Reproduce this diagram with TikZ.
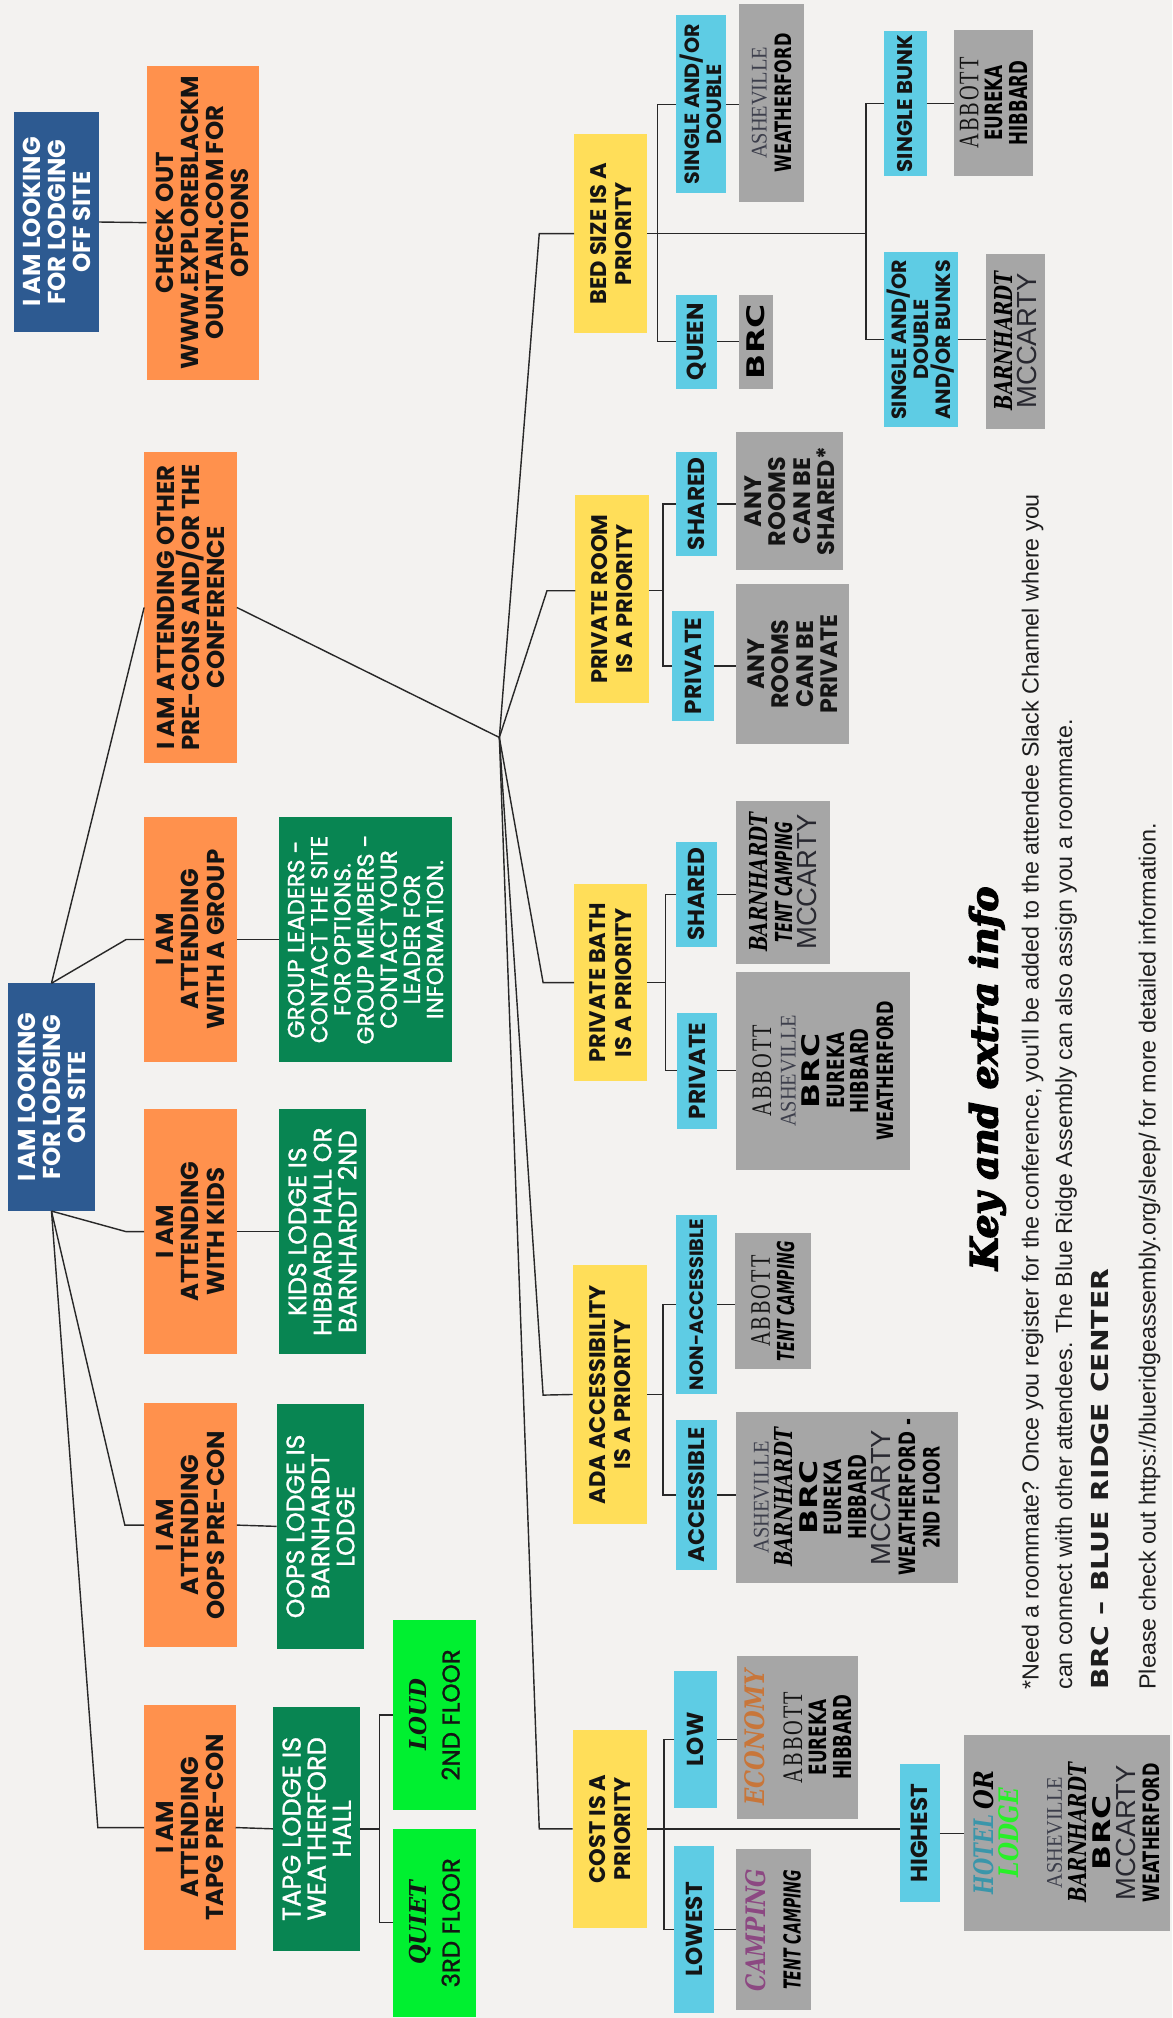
\documentclass[tikz,border=0pt]{standalone}
\usepackage{fontspec}
\usepackage{graphicx}
\setmainfont{Liberation Sans}
\newfontfamily\pop{Poppins}
\newfontfamily\popm{Poppins}[FakeBold=1.0]
\newfontfamily\libserif{Liberation Serif}
\newfontfamily\libserifLS{Liberation Serif}[LetterSpace=10]
\newfontfamily\djsans{DejaVu Sans}
\newfontfamily\djserif{DejaVu Serif}
\newfontfamily\titlefont{DejaVu Serif}[BoldItalicFeatures={FakeBold=4}]
\newfontfamily\libsans{Liberation Sans}
\definecolor{bg}{RGB}{243,242,240}
\definecolor{cblue}{RGB}{45,90,145}
\definecolor{corange}{RGB}{255,145,77}
\definecolor{cdgreen}{RGB}{8,133,82}
\definecolor{clgreen}{RGB}{0,240,48}
\definecolor{cyellow}{RGB}{255,222,89}
\definecolor{ccyan}{RGB}{94,204,228}
\definecolor{cgrey}{RGB}{166,166,166}
\definecolor{cline}{RGB}{40,40,40}
\definecolor{cdark}{RGB}{20,20,20}
\definecolor{cashe}{RGB}{60,62,75}
\definecolor{cmcc}{RGB}{40,40,48}
\definecolor{cecon}{RGB}{200,118,58}
\definecolor{ccamp}{RGB}{140,72,130}
\definecolor{chotel}{RGB}{58,150,170}
\definecolor{clodge}{RGB}{40,240,40}
\definecolor{ckey}{RGB}{30,30,30}
\newcommand\fs[2]{\fontsize{#1}{#2}\selectfont}
\newcommand\wABBOTT{\textcolor{cdark}{\resizebox{71pt}{14.5pt}{\libserifLS ABBOTT}}}
\newcommand\wASHE{\textcolor{cashe}{\resizebox{87pt}{11.5pt}{\libserif ASHEVILLE}}}
\newcommand\wBRC{\textcolor{black}{\resizebox{58pt}{14pt}{\djsans\bfseries BRC}}}
\newcommand\wEUREKA{\textcolor{black}{\resizebox{59pt}{13.5pt}{\djsans\bfseries EUREKA}}}
\newcommand\wHIBBARD{\textcolor{black}{\resizebox{66pt}{14pt}{\djsans\bfseries HIBBARD}}}
\newcommand\wWEATH{\textcolor{black}{\resizebox{108pt}{13pt}{\djsans\bfseries WEATHERFORD}}}
\newcommand\wWEATHd{\textcolor{black}{\resizebox{122pt}{13pt}{\djsans\bfseries WEATHERFORD -}}}
\newcommand\wSECOND{\textcolor{black}{\resizebox{79pt}{13pt}{\djsans\bfseries 2ND FLOOR}}}
\newcommand\wBARN{\textcolor{black}{\resizebox{108pt}{14pt}{\djserif\bfseries\itshape BARNHARDT}}}
\newcommand\wMCC{\textcolor{cmcc}{\resizebox{105pt}{15pt}{\libsans MCCARTY}}}
\newcommand\wTENT{\textcolor{black}{\resizebox{93pt}{13.5pt}{\djsans\bfseries\itshape TENT CAMPING}}}
\newcommand\wECON{\textcolor{cecon}{\resizebox{106pt}{15.5pt}{\djserif\bfseries\itshape ECONOMY}}}
\newcommand\wCAMP{\textcolor{ccamp}{\resizebox{95pt}{15.5pt}{\djserif\bfseries\itshape CAMPING}}}
\newcommand\wHOTEL{\textcolor{chotel}{\resizebox{62pt}{15.5pt}{\djserif\bfseries\itshape HOTEL}}}
\newcommand\wOR{\textcolor{black}{\resizebox{30pt}{15.5pt}{\djserif\bfseries\itshape OR}}}
\newcommand\wLODGE{\textcolor{clodge}{\resizebox{69pt}{15.5pt}{\djserif\bfseries\itshape LODGE}}}
\newcommand\wLOUD{\resizebox{56pt}{13.4pt}{\djserif\bfseries\itshape LOUD}}
\newcommand\wQUIET{\resizebox{65pt}{13.4pt}{\djserif\bfseries\itshape QUIET}}
\begin{document}
\begin{tikzpicture}[x=1pt,y=-1pt,
  bx/.style={rotate=90, inner sep=0pt, outer sep=0pt, align=center, text=cdark},
  nblue/.style={bx, fill=cblue, text=white, font=\pop\bfseries\fs{19}{19.5}},
  norange/.style={bx, fill=corange, font=\pop\bfseries\fs{19}{19.5}},
  ndgreen/.style={bx, fill=cdgreen, text=white, font=\popm\fs{19.5}{19.5}},
  nlgreen/.style={bx, fill=clgreen, font=\popm\fs{19}{19}},
  nyellow/.style={bx, fill=cyellow, font=\pop\bfseries\fs{17.5}{19.5}},
  ncyan/.style={bx, fill=ccyan, font=\pop\bfseries\fs{18}{19}},
  ngrey/.style={bx, fill=cgrey, font=\fs{14}{19}},
  conn/.style={draw=cline, line width=1.1pt},
  keytxt/.style={rotate=90, inner sep=0pt, anchor=base west, text=ckey, font=\libsans\fs{16.5}{18}}]
\useasboundingbox (0,0) rectangle (911,1568);
\fill[bg] (0,0) rectangle (911,1568);

% ---- left column
\node[nblue, minimum width=171, minimum height=66] (offsite) at (44,172.5) {I AM LOOKING\\FOR LODGING\\OFF SITE};
\node[nblue, minimum width=177, minimum height=68] (onsite) at (40,852.5) {I AM LOOKING\\FOR LODGING\\ON SITE};

\node[norange, minimum width=244, minimum height=87] (checkout) at (157.5,173) {CHECK OUT\\WWW.EXPLOREBLACKM\\OUNTAIN.COM FOR\\OPTIONS};
\node[norange, minimum width=242, minimum height=72] (other) at (148,472) {I AM ATTENDING OTHER\\PRE-CONS AND/OR THE\\CONFERENCE};
\node[norange, minimum width=190, minimum height=72] (group) at (148,730) {I AM\\ATTENDING\\WITH A GROUP};
\node[norange, minimum width=190, minimum height=72] (kids) at (148,957) {I AM\\ATTENDING\\WITH KIDS};
\node[norange, minimum width=190, minimum height=72] (oops) at (148,1185) {I AM\\ATTENDING\\OOPS PRE-CON};
\node[norange, minimum width=190, minimum height=71] (tapg) at (147.5,1420) {I AM\\ATTENDING\\TAPG PRE-CON};

\node[ndgreen, minimum width=190, minimum height=134, font=\popm\fs{18}{18}] (leaders) at (284,730) {GROUP LEADERS -\\CONTACT THE SITE\\FOR OPTIONS.\\GROUP MEMBERS -\\CONTACT YOUR\\LEADER FOR\\INFORMATION.};
\node[ndgreen, minimum width=190, minimum height=67] (kidslodge) at (250.5,957) {KIDS LODGE IS\\HIBBARD HALL OR\\BARNHARDT 2ND};
\node[ndgreen, minimum width=190, minimum height=68] (oopslodge) at (249,1186) {OOPS LODGE IS\\BARNHARDT\\LODGE};
\node[ndgreen, minimum width=190, minimum height=68, font=\popm\fs{20}{19.5}] (tapglodge) at (246,1421) {TAPG LODGE IS\\WEATHERFORD\\HALL};

\node[nlgreen, minimum width=147, minimum height=65] (loud) at (337.5,1332.5) {\wLOUD\\[7pt]2ND FLOOR};
\node[nlgreen, minimum width=146, minimum height=65] (quiet) at (337.5,1494) {\wQUIET\\[7pt]3RD FLOOR};

% ---- priorities
\node[nyellow, minimum width=155, minimum height=57] (bed) at (474.5,181.5) {BED SIZE IS A\\PRIORITY};
\node[nyellow, minimum width=161, minimum height=57] (room) at (475.5,465.5) {PRIVATE ROOM\\IS A PRIORITY};
\node[nyellow, minimum width=153, minimum height=57] (bath) at (474.5,763.5) {PRIVATE BATH\\IS A PRIORITY};
\node[nyellow, minimum width=201, minimum height=58] (ada) at (474,1083.5) {ADA ACCESSIBILITY\\IS A PRIORITY};
\node[nyellow, minimum width=154, minimum height=58] (cost) at (474,1421) {COST IS A\\PRIORITY};

% ---- options
\node[ncyan, minimum width=138, minimum height=39, font=\pop\bfseries\fs{16}{16.5}] (sod) at (544.5,81) {SINGLE AND/OR\\DOUBLE};
\node[ncyan, minimum width=73, minimum height=32] (queen) at (541,265.5) {QUEEN};
\node[ncyan, minimum width=113, minimum height=33, font=\pop\bfseries\fs{16.5}{17}] (bunk) at (703.5,80.5) {SINGLE BUNK};
\node[ncyan, minimum width=136, minimum height=57, font=\pop\bfseries\fs{16}{17}] (bunks) at (715.5,264) {SINGLE AND/OR\\DOUBLE\\AND/OR BUNKS};
\node[ncyan, minimum width=81, minimum height=32] (rshared) at (541,391.5) {SHARED};
\node[ncyan, minimum width=85, minimum height=33] (rprivate) at (538.5,517.5) {PRIVATE};
\node[ncyan, minimum width=82, minimum height=32] (bshared) at (541,695) {SHARED};
\node[ncyan, minimum width=90, minimum height=31] (bprivate) at (541.5,832) {PRIVATE};
\node[ncyan, minimum width=139, minimum height=32, font=\pop\bfseries\fs{15}{16}] (nonacc) at (541,1013.5) {NON-ACCESSIBLE};
\node[ncyan, minimum width=117, minimum height=32, font=\pop\bfseries\fs{17.5}{18}] (acc) at (541,1161.5) {ACCESSIBLE};
\node[ncyan, minimum width=107, minimum height=33] (low) at (540.5,1351.5) {LOW};
\node[ncyan, minimum width=130, minimum height=31] (lowest) at (539.5,1499) {LOWEST};
\node[ncyan, minimum width=107, minimum height=31] (highest) at (714.5,1424.5) {HIGHEST};

% ---- lodges
\node[ngrey, minimum width=154, minimum height=51] (gsod) at (599.5,80) {\wASHE\\\wWEATH};
\node[ngrey, minimum width=73, minimum height=27] (gqueen) at (587.5,265.5) {\wBRC};
\node[ngrey, minimum width=114, minimum height=62] (gbunk) at (772,80) {\wABBOTT\\\wEUREKA\\\wHIBBARD};
\node[ngrey, minimum width=136, minimum height=46] (gbunks) at (789,265) {\wBARN\\\wMCC};
\node[ngrey, minimum width=107, minimum height=83, font=\pop\bfseries\fs{18.5}{19}] (grshared) at (613.5,389.5) {ANY\\ROOMS\\CAN BE\\SHARED*};
\node[ngrey, minimum width=124, minimum height=88, font=\pop\bfseries\fs{18.5}{19}] (grprivate) at (616,516) {ANY\\ROOMS\\CAN BE\\PRIVATE};
\node[ngrey, minimum width=127, minimum height=73] (gbshared) at (608.5,685.5) {\wBARN\\\wTENT\\\wMCC};
\node[ngrey, minimum width=154, minimum height=135] (gbprivate) at (639.5,832) {\wABBOTT\\\wASHE\\\wBRC\\\wEUREKA\\\wHIBBARD\\\wWEATH};
\node[ngrey, minimum width=106, minimum height=59] (gnonacc) at (600.5,1011) {\wABBOTT\\\wTENT};
\node[ngrey, minimum width=133, minimum height=172] (gacc) at (658,1163.5) {\wASHE\\\wBARN\\\wBRC\\\wEUREKA\\\wHIBBARD\\\wMCC\\\wWEATHd\\\wSECOND};
\node[ngrey, minimum width=126, minimum height=94] (glow) at (620,1350) {\wECON\\[10pt]\wABBOTT\\\wEUREKA\\\wHIBBARD};
\node[ngrey, minimum width=125, minimum height=58] (glowest) at (601,1499.5) {\wCAMP\\[8pt]\wTENT};
\node[ngrey, minimum width=152, minimum height=160] (ghighest) at (829,1424) {\wHOTEL\hspace{4pt}\wOR\\\wLODGE\\[15pt]\wASHE\\\wBARN\\\wBRC\\\wMCC\\\wWEATH};

% ---- connectors, left part
\draw[conn] (offsite.south) -- (checkout.north);
\draw[conn] (onsite.east) -- (other.north);
\draw[conn] (onsite.east) -- (98,730) -- (group.north);
\draw[conn] (group.south) -- (leaders.north);
\draw[conn] (onsite.west) -- (98,957) -- (kids.north);
\draw[conn] (kids.south) -- (kidslodge.north);
\draw[conn] (onsite.west) -- (97,1185) -- (oops.north);
\draw[conn] (oops.south) -- (oopslodge.north);
\draw[conn] (onsite.west) -- (76,1420) -- (tapg.north);
\draw[conn] (tapg.south) -- (tapglodge.north);
\coordinate (tbr) at (295,1421);
\draw[conn] (tapglodge.south) -- (tbr);
\draw[conn] (loud.north) -| (295,1494) -- (quiet.north);

% ---- connectors, right part
\coordinate (rhub) at (388,573);
\draw[conn] (other.south) -- (rhub);
\draw[conn] (rhub) -- (419,181.5) -- (bed.north);
\draw[conn] (rhub) -- (425,459) -- (room.north |- 0,459);
\draw[conn] (rhub) -- (422,763.5) -- (bath.north);
\draw[conn] (rhub) -- (422,1084) -- (ada.north);
\draw[conn] (rhub) -- (419,1421) -- (cost.north);

\draw[conn] (bed.south) -- (673,181.5);
\draw[conn] (sod.north) -| (511,265.5) -- (queen.north);
\draw[conn] (bunk.north) -| (673,264) -- (bunks.north);
\draw[conn] (sod.south) -- (sod.south -| gsod.north);
\draw[conn] (queen.south) -- (queen.south -| gqueen.north);
\draw[conn] (bunk.south) -- (bunk.south -| gbunk.north);
\draw[conn] (bunks.south) -- (bunks.south -| gbunks.north);

\draw[conn] (room.south |- 0,459) -- (515,459);
\draw[conn] (rshared.north) -| (515,517.5) -- (rprivate.north);
\draw[conn] (rshared.south) -- (rshared.south -| grshared.north);
\draw[conn] (rprivate.south) -- (rprivate.south -| grprivate.north);

\draw[conn] (bath.south) -- (517,763.5);
\draw[conn] (bshared.north) -| (517,832) -- (bprivate.north);
\draw[conn] (bshared.south) -- (bshared.south -| gbshared.north);
\draw[conn] (bprivate.south) -- (bprivate.south -| gbprivate.north);

\draw[conn] (ada.south) -- (515,1083.5);
\draw[conn] (nonacc.north) -| (515,1161.5) -- (acc.north);
\draw[conn] (nonacc.south) -- (nonacc.south -| gnonacc.north);
\draw[conn] (acc.south) -- (acc.south -| gacc.north);

\draw[conn] (cost.south) -- (cost.south -| highest.north);
\draw[conn] (low.north) -| (516,1499) -- (lowest.north);
\draw[conn] (low.south) -- (low.south -| glow.north);
\draw[conn] (lowest.south) -- (lowest.south -| glowest.north);
\draw[conn] (highest.south) -- (highest.south -| ghighest.north);

% ---- key
\node[rotate=90, inner sep=0pt, anchor=base west, text=black] (ktitle) at (775,987) {\resizebox{298pt}{!}{\titlefont\bfseries\itshape Key and extra info}};
\node[keytxt] (k1) at (807,1313) {\resizebox{929pt}{!}{*Need a roommate? Once you register for the conference, you'll be added to the attendee Slack Channel where you}};
\node[keytxt] (k2) at (833,1313) {\resizebox{754pt}{!}{can connect with other attendees. The Blue Ridge Assembly can also assign you a roommate.}};
\node[keytxt] (k3) at (861,1313) {\resizebox{327pt}{13.5pt}{\djsans\bfseries BRC – BLUE RIDGE CENTER}};
\node[keytxt] (k4) at (898,1313) {\resizebox{673pt}{!}{Please check out https://blueridgeassembly.org/sleep/ for more detailed information.}};
\end{tikzpicture}
\end{document}
